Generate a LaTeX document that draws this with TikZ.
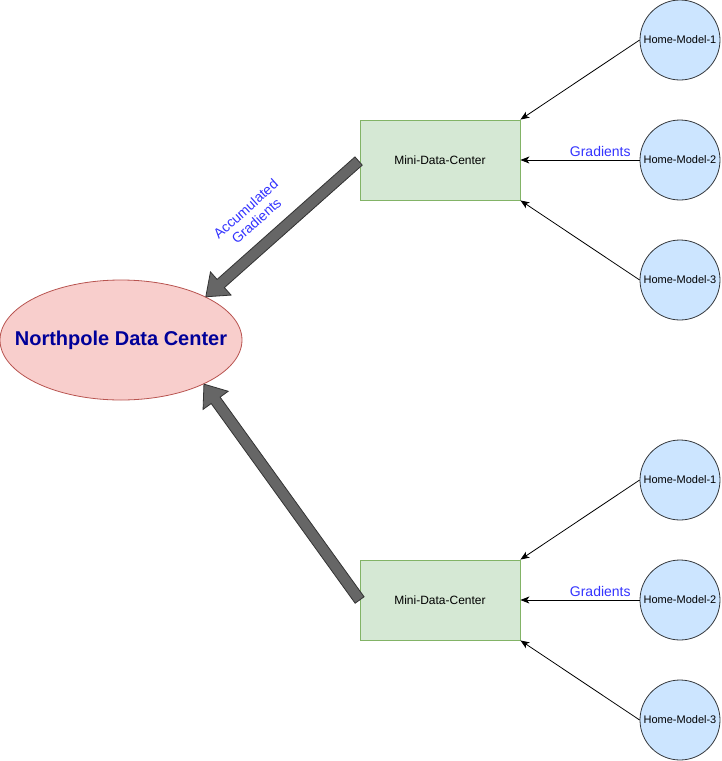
\documentclass[tikz,border=0pt]{standalone}
\usepackage{fontspec}
\setmainfont{Liberation Sans}
\usetikzlibrary{shapes.geometric,arrows.meta,calc}
\definecolor{hmfill}{HTML}{CCE5FF}
\definecolor{hmdraw}{HTML}{36393D}
\definecolor{mdcfill}{HTML}{D5E8D4}
\definecolor{mdcdraw}{HTML}{82B366}
\definecolor{ndfill}{HTML}{F8CECC}
\definecolor{nddraw}{HTML}{B85450}
\definecolor{ndtext}{HTML}{000099}
\definecolor{gradblue}{HTML}{3333FF}
\definecolor{bigfill}{HTML}{666666}
\definecolor{bigdraw}{HTML}{333333}
\begin{document}
\begin{tikzpicture}[x=1pt,y=-1pt,
  hm/.style={circle, draw=hmdraw, fill=hmfill, minimum size=80pt, inner sep=0pt, line width=0.8pt, font=\fontsize{11}{13}\selectfont},
  mdc/.style={rectangle, draw=mdcdraw, fill=mdcfill, minimum width=160pt, minimum height=80pt, line width=0.8pt, font=\fontsize{12}{14}\selectfont},
  nd/.style={ellipse, draw=nddraw, fill=ndfill, minimum width=242pt, minimum height=120pt, inner xsep=-40pt, inner ysep=0pt, line width=0.8pt, text=ndtext, font=\fontsize{20}{24}\selectfont\bfseries},
  thinarr/.style={draw=black, line width=0.8pt, -{Stealth[length=9pt,width=7pt,inset=2.5pt]}},
  grad/.style={text=gradblue, font=\fontsize{14}{16}\selectfont, inner sep=1pt},
  bigarr/.style={fill=bigfill, draw=bigdraw, line width=0.8pt, line join=miter}
]
\useasboundingbox (0,0) rectangle (721,761);

% nodes
\node[nd] (nd) at (121,340) {Northpole Data Center};
\node[mdc] (mdc1) at (440,160) {Mini-Data-Center};
\node[mdc] (mdc2) at (440,600) {Mini-Data-Center};
\node[hm] (hma1) at (680,40) {Home-Model-1};
\node[hm] (hma2) at (680,160) {Home-Model-2};
\node[hm] (hma3) at (680,280) {Home-Model-3};
\node[hm] (hmb1) at (680,480) {Home-Model-1};
\node[hm] (hmb2) at (680,600) {Home-Model-2};
\node[hm] (hmb3) at (680,720) {Home-Model-3};

% thin connectors
\draw[thinarr] (hma1.west) -- (mdc1.north east);
\draw[thinarr] (hma2.west) -- node[grad, pos=0.33, above=2pt] {Gradients} (mdc1.east);
\draw[thinarr] (hma3.west) -- (mdc1.south east);
\draw[thinarr] (hmb1.west) -- (mdc2.north east);
\draw[thinarr] (hmb2.west) -- node[grad, pos=0.33, above=2pt] {Gradients} (mdc2.east);
\draw[thinarr] (hmb3.west) -- (mdc2.south east);

% big arrows
\coordinate (s1) at ($(mdc1.west)+(-1,1)$);
\coordinate (e1) at (nd.27);
\coordinate (h1) at ($(e1)!20pt!(s1)$);
\filldraw[bigarr] ($(s1)!5.5pt!90:(e1)$) -- ($(h1)!5.5pt!90:(e1)$) -- ($(h1)!15.5pt!90:(e1)$) -- (e1)
  -- ($(h1)!15.5pt!-90:(e1)$) -- ($(h1)!5.5pt!-90:(e1)$) -- ($(s1)!5.5pt!-90:(e1)$) -- cycle;

\coordinate (s2) at ($(mdc2.west)+(0,0)$);
\coordinate (e2) at (nd.-28);
\coordinate (h2) at ($(e2)!20pt!(s2)$);
\filldraw[bigarr] ($(s2)!5.5pt!90:(e2)$) -- ($(h2)!5.5pt!90:(e2)$) -- ($(h2)!15.5pt!90:(e2)$) -- (e2)
  -- ($(h2)!15.5pt!-90:(e2)$) -- ($(h2)!5.5pt!-90:(e2)$) -- ($(s2)!5.5pt!-90:(e2)$) -- cycle;

\node[grad, rotate=42, align=center, inner sep=0pt] (acc) at (251,215) {Accumulated\\Gradients};
\end{tikzpicture}
\end{document}
